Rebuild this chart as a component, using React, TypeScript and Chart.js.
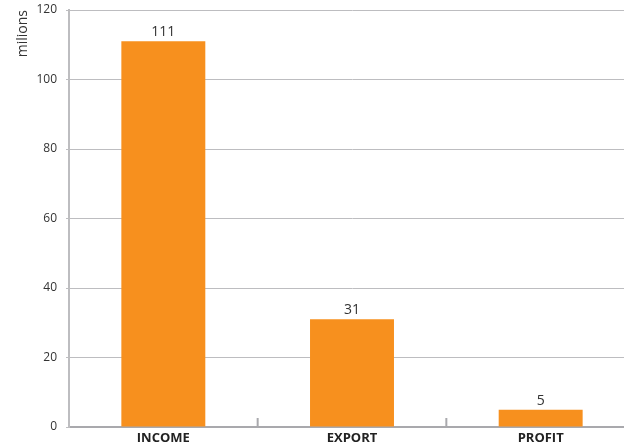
import React, { useEffect, useRef } from "react";
import { Chart, registerables } from "chart.js";

Chart.register(...registerables);

const categories = ["INCOME", "EXPORT", "PROFIT"];
const values = [111, 31, 5];
const yTicks = [0, 20, 40, 60, 80, 100, 120];
const yTitle = "milions";

const FONT = "'Open Sans', 'DejaVu Sans', sans-serif";

const valueLabels = {
  id: "valueLabels",
  afterDatasetsDraw(chart: any) {
    const ctx = chart.ctx;
    const meta = chart.getDatasetMeta(0);
    ctx.save();
    ctx.font = `14px ${FONT}`;
    ctx.fillStyle = "#333333";
    ctx.textAlign = "center";
    ctx.textBaseline = "bottom";
    meta.data.forEach((bar: any, i: number) => {
      ctx.fillText(String(values[i]), bar.x, bar.y - 2);
    });
    ctx.restore();
  },
};

const catTicks = {
  id: "catTicks",
  afterDraw(chart: any) {
    const ctx = chart.ctx;
    const x = chart.scales.x;
    const bottom = chart.chartArea.bottom;
    ctx.save();
    ctx.strokeStyle = "#a9a9ad";
    ctx.lineWidth = 2;
    for (let i = 1; i < categories.length; i++) {
      const px = (x.getPixelForValue(i - 1) + x.getPixelForValue(i)) / 2;
      ctx.beginPath();
      ctx.moveTo(px, bottom);
      ctx.lineTo(px, bottom - 9);
      ctx.stroke();
    }
    ctx.restore();
  },
};

export default function App() {
  const ref = useRef<HTMLCanvasElement>(null);
  useEffect(() => {
    if (!ref.current) return;
    const chart = new Chart(ref.current, {
      type: "bar",
      data: {
        labels: categories,
        datasets: [
          {
            data: values,
            backgroundColor: "#F7901E",
            barPercentage: 0.445,
            categoryPercentage: 1,
          },
        ],
      },
      options: {
        animation: false,
        responsive: false,
        maintainAspectRatio: false,
        layout: { padding: { top: 10, right: 5, left: 0, bottom: 0 } },
        plugins: { legend: { display: false }, tooltip: { enabled: false } },
        scales: {
          x: {
            grid: { display: false, drawTicks: false },
            border: { display: true, color: "#a9a9ad", width: 2 },
            ticks: {
              padding: 3,
              color: "#222222",
              font: { family: FONT, size: 13, weight: "bold" },
            },
            afterFit(s: any) {
              s.height = 21;
            },
          },
          y: {
            min: 0,
            max: 120,
            afterBuildTicks(s: any) {
              s.ticks = yTicks.map((v) => ({ value: v }));
            },
            grid: {
              color: "#bdbdc0",
              lineWidth: 1,
              tickLength: 3,
            },
            border: { display: true, color: "#bdbdc0", width: 2 },
            ticks: {
              padding: 9,
              color: "#333333",
              font: { family: FONT, size: 12 },
            },
            title: {
              display: true,
              text: yTitle,
              align: "end",
              color: "#333333",
              font: { family: FONT, size: 14 },
              padding: { top: 15, bottom: 0 },
            },
            afterFit(s: any) {
              s.width = 69;
              s.paddingTop = 0;
              s.paddingBottom = 0;
            },
          },
        },
      },
      plugins: [valueLabels, catTicks],
    } as any);
    return () => chart.destroy();
  }, []);
  return (
    <div style={{ position: "fixed", left: 0, top: 0, width: 624, height: 448, overflow: "hidden", background: "#fff" }}>
      <canvas ref={ref} width={640} height={448} style={{ display: "block", width: 640, height: 448 }} />
    </div>
  );
}
